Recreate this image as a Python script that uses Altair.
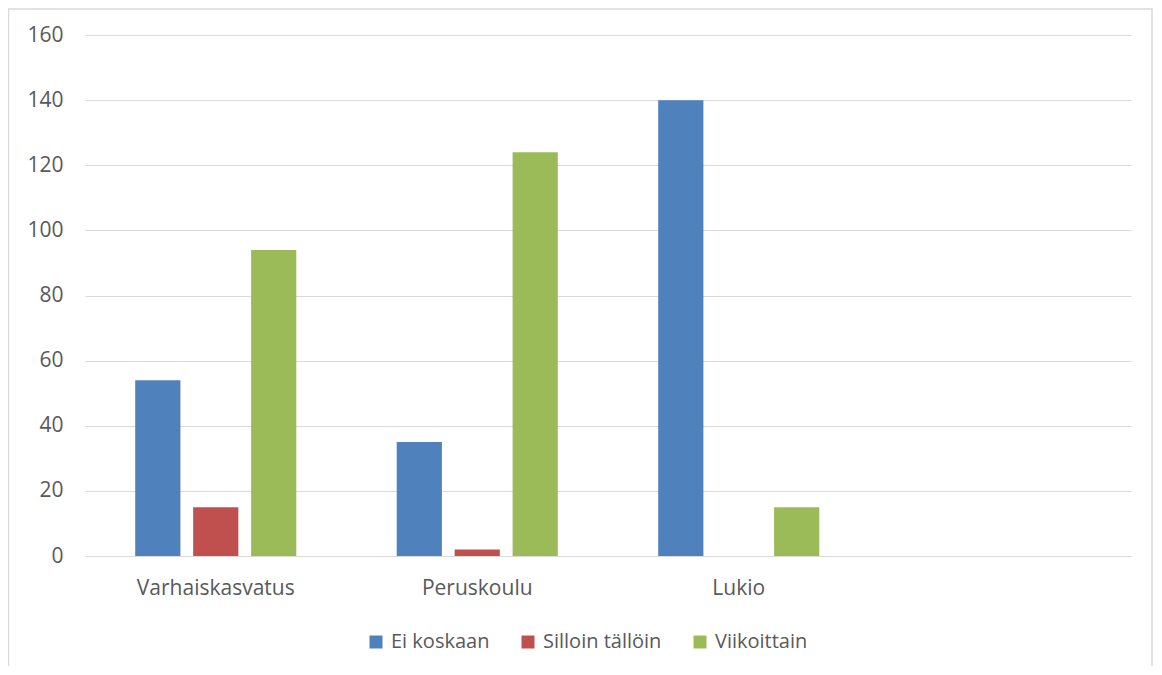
import altair as alt
import pandas as pd

categories = ["Varhaiskasvatus", "Peruskoulu", "Lukio", " "]
series = ["Ei koskaan", "Silloin tällöin", "Viikoittain"]
colors = ["#4F81BD", "#C0504D", "#9BBB59"]
ei_koskaan = [54, 35, 140]
silloin = [15, 2, 0]
viikoittain = [94, 124, 15]
y_ticks = [0, 20, 40, 60, 80, 100, 120, 140, 160]

rows = []
for i, cat in enumerate(categories[:3]):
    for s, vals in zip(series, [ei_koskaan, silloin, viikoittain]):
        rows.append({"cat": cat, "series": s, "value": vals[i]})
df = pd.DataFrame(rows)

FONT = "Open Sans"
TXT = "#595959"
GRID = "#D9D9D9"
FS = 21

bars = alt.Chart(df).mark_bar().encode(
    x=alt.X("cat:N", sort=categories,
            scale=alt.Scale(domain=categories, paddingInner=0.384, paddingOuter=0.192),
            axis=alt.Axis(title=None, labelAngle=0, ticks=False, domain=True,
                          domainColor=GRID, labelPadding=21, labelFontSize=FS,
                          labelColor=TXT, labelFont=FONT)),
    xOffset=alt.XOffset("series:N", sort=series,
                        scale=alt.Scale(domain=series, paddingInner=0.22, paddingOuter=0)),
    y=alt.Y("value:Q", scale=alt.Scale(domain=[0, 160], nice=False),
            axis=alt.Axis(title=None, values=y_ticks, ticks=False, domain=False,
                          gridColor=GRID, labelPadding=22, labelFontSize=FS,
                          labelColor=TXT, labelFont=FONT)),
    color=alt.Color("series:N", sort=series,
                    scale=alt.Scale(domain=series, range=colors),
                    legend=alt.Legend(title=None, orient="none", direction="horizontal",
                                      legendX=281, legendY=597, symbolType="square",
                                      symbolSize=169, symbolStrokeWidth=0,
                                      labelFontSize=20, labelColor=TXT, labelFont=FONT,
                                      labelOffset=5, columnPadding=28)),
)

border = alt.Chart(pd.DataFrame({"a": [0]})).mark_rect(
    fill=None, stroke=GRID, strokeWidth=1.5
).encode(
    x=alt.value(-76.5), x2=alt.value(1067), y=alt.value(-26), y2=alt.value(700)
)

chart = alt.layer(border, bars).properties(
    width=1046, height=521,
    autosize=alt.AutoSizeParams(type="none"),
    padding={"left": 77, "top": 27, "right": 22, "bottom": 110},
).configure_view(stroke=None)

chart.save("out.html", embed_options={"renderer": "svg", "actions": False})
